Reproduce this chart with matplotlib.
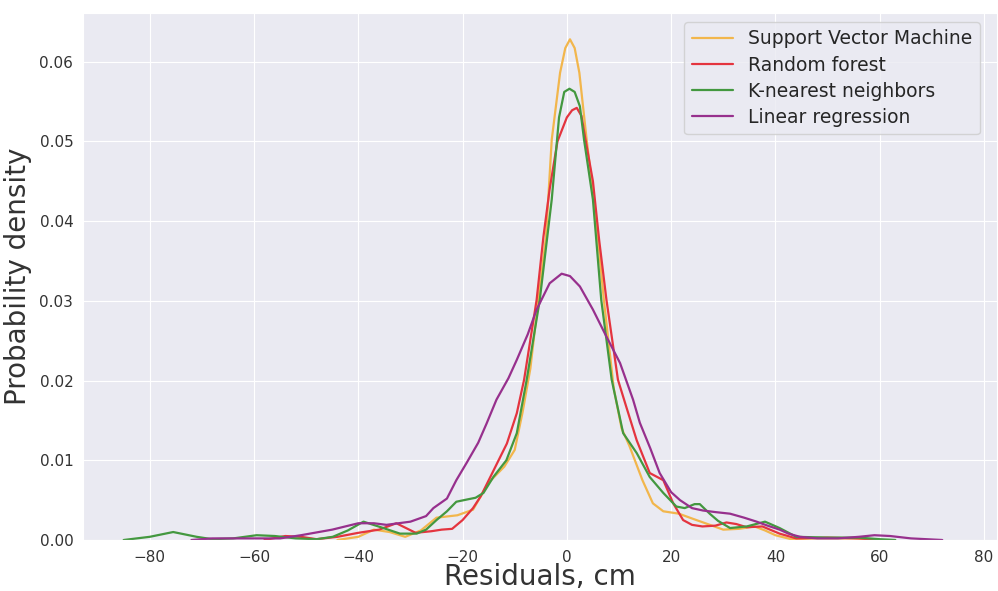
import matplotlib
matplotlib.use("Agg")
import matplotlib.pyplot as plt
import seaborn as sns

# ---------------------------------------------------------------------------
# Residual densities (x in cm, y = density)
# ---------------------------------------------------------------------------
SVM_X = [-44, -40, -37, -34, -31, -28, -25, -21, -18, -15, -12, -10, -8.5, -7,
         -5.5, -4, -2.9, -1.3, -0.3, 0.6, 1.5, 2.4, 3.8, 5.5, 7.1, 9.0, 10.5,
         12, 14.5, 16.5, 18.5, 21.5, 24, 27, 30, 33, 36, 38, 40, 43, 48, 55, 60]
SVM_Y = [0.0, 0.0004, 0.0013, 0.0010, 0.0004, 0.0012, 0.0028, 0.0031, 0.0038,
         0.0072, 0.0092, 0.0113, 0.0160, 0.0215, 0.0300, 0.0380, 0.0502, 0.0586,
         0.0617, 0.0628, 0.0617, 0.0586, 0.0502, 0.0410, 0.0301, 0.0190, 0.0140,
         0.0118, 0.0075, 0.0046, 0.0036, 0.0033, 0.0027, 0.0020, 0.0013, 0.0014,
         0.0017, 0.0012, 0.0006, 0.0001, 0.0002, 0.0002, 0.0]

RF_X = [-58, -54, -51, -48, -44, -40, -36, -32.7, -29, -26, -24, -22, -20, -18,
        -16.5, -14, -11.5, -9.6, -8.2, -5.8, -4.5, -3.3, -1.8, 0, 1.0, 1.9, 2.8,
        3.5, 5.0, 6.2, 7.6, 9.8, 11.4, 13.4, 15.9, 18.5, 20.4, 22.3, 24, 26,
        28.5, 30.6, 32.5, 34.5, 37.5, 40.8, 44, 50, 56, 60]
RF_Y = [0.0, 0.0005, 0.0004, 0.0001, 0.0004, 0.0009, 0.0013, 0.0021, 0.0009,
        0.0011, 0.0013, 0.0014, 0.0025, 0.0040, 0.0055, 0.0088, 0.0121, 0.0159,
        0.0201, 0.0301, 0.0380, 0.0440, 0.0500, 0.0530, 0.0539, 0.0542, 0.0532,
        0.0505, 0.0450, 0.0376, 0.0301, 0.0201, 0.0167, 0.0125, 0.0084, 0.0075,
        0.0046, 0.0025, 0.0019, 0.0017, 0.0018, 0.0022, 0.0020, 0.0016, 0.0017,
        0.0008, 0.0002, 0.0003, 0.0002, 0.0]

KNN_X = [-85, -80, -75.5, -71, -68, -64, -59.5, -56, -52, -48, -44.9, -42, -39,
         -35.2, -32, -28.8, -27, -25, -23, -21.2, -19, -17.5, -16, -14.1, -11.6,
         -9.6, -7.7, -5.2, -2.9, -1.5, -0.5, 0.5, 1.5, 2.5, 3.3, 5.0, 6.6, 8.6,
         10.8, 13.4, 15.9, 18.5, 21, 22.6, 24.5, 25.5, 27.4, 29, 31.3, 34.5, 38,
         40.8, 44, 50, 56, 60, 63]
KNN_Y = [0.0, 0.0004, 0.0010, 0.0004, 0.0001, 0.0002, 0.0006, 0.0005, 0.0002,
         0.0001, 0.0004, 0.0012, 0.0023, 0.0015, 0.0008, 0.0008, 0.0013, 0.0025,
         0.0036, 0.0048, 0.0051, 0.0053, 0.0059, 0.0079, 0.0100, 0.0134, 0.0201,
         0.0301, 0.0427, 0.0530, 0.0562, 0.0566, 0.0562, 0.0544, 0.0502, 0.0427,
         0.0301, 0.0201, 0.0134, 0.0109, 0.0079, 0.0059, 0.0042, 0.0040, 0.0045,
         0.0045, 0.0033, 0.0024, 0.0015, 0.0017, 0.0023, 0.0015, 0.0004, 0.0003,
         0.0003, 0.0001, 0.0]

LR_X = [-72, -68, -64, -60, -55, -51, -45, -40, -37, -34.6, -30, -27, -25.6,
        -23, -21.2, -19.2, -17, -15.4, -13.5, -11.2, -9.6, -7.5, -5.8, -3.3, -1,
        0.6, 2.5, 5.0, 7.6, 10.2, 12.7, 14.0, 16, 17.8, 20, 21.7, 24, 26.1, 28.5,
        31.3, 34, 36.4, 38.5, 40.8, 42.5, 44.7, 48, 52, 56, 59, 62, 66, 72]
LR_Y = [0.0, 0.0002, 0.0002, 0.0002, 0.0002, 0.0006, 0.0013, 0.0021, 0.0021,
        0.0019, 0.0023, 0.0030, 0.0040, 0.0052, 0.0075, 0.0097, 0.0122, 0.0146,
        0.0176, 0.0203, 0.0226, 0.0258, 0.0289, 0.0322, 0.0334, 0.0331, 0.0318,
        0.0289, 0.0255, 0.0222, 0.0176, 0.0147, 0.0115, 0.0084, 0.0060, 0.0050,
        0.0040, 0.0037, 0.0035, 0.0033, 0.0028, 0.0023, 0.0018, 0.0013, 0.0008,
        0.0004, 0.0002, 0.0002, 0.0004, 0.0006, 0.0005, 0.0002, 0.0]

SERIES = [
    ("Support Vector Machine", SVM_X, SVM_Y, "#f2b64c"),
    ("Random forest", RF_X, RF_Y, "#e4343f"),
    ("K-nearest neighbors", KNN_X, KNN_Y, "#43983f"),
    ("Linear regression", LR_X, LR_Y, "#97308d"),
]

X_TICKS = [-80, -60, -40, -20, 0, 20, 40, 60, 80]
Y_TICKS = [0.00, 0.01, 0.02, 0.03, 0.04, 0.05, 0.06]


def main():
    sns.set_style("darkgrid")
    plt.rcParams["font.family"] = ["DejaVu Sans"]

    fig = plt.figure(figsize=(9.98, 5.91), dpi=100)
    ax = fig.add_axes([83 / 998, 51 / 591, 914 / 998, 527 / 591])

    for label, xs, ys, color in SERIES:
        ax.plot(xs, ys, color=color, linewidth=1.6, label=label)

    ax.set_xlim(-92.8, 82.5)
    ax.set_ylim(0, 0.0661)
    ax.set_xticks(X_TICKS)
    ax.set_yticks(Y_TICKS)
    ax.set_yticklabels([f"{v:.2f}" for v in Y_TICKS])
    ax.tick_params(labelsize=11, colors="#333333")

    ax.set_xlabel("Residuals, cm", fontsize=20, color="#333333", labelpad=-1)
    ax.set_ylabel("Probability density", fontsize=20, color="#333333", labelpad=5)

    # legend box anchored where the reference has it
    ax.legend(loc="upper right", bbox_to_anchor=(0.981, 0.983), borderaxespad=0,
              fontsize=13.5, handlelength=2.2, labelspacing=0.38,
              framealpha=0.8)

    fig.savefig("out.png", dpi=100)
    plt.close(fig)


if __name__ == "__main__":
    main()
